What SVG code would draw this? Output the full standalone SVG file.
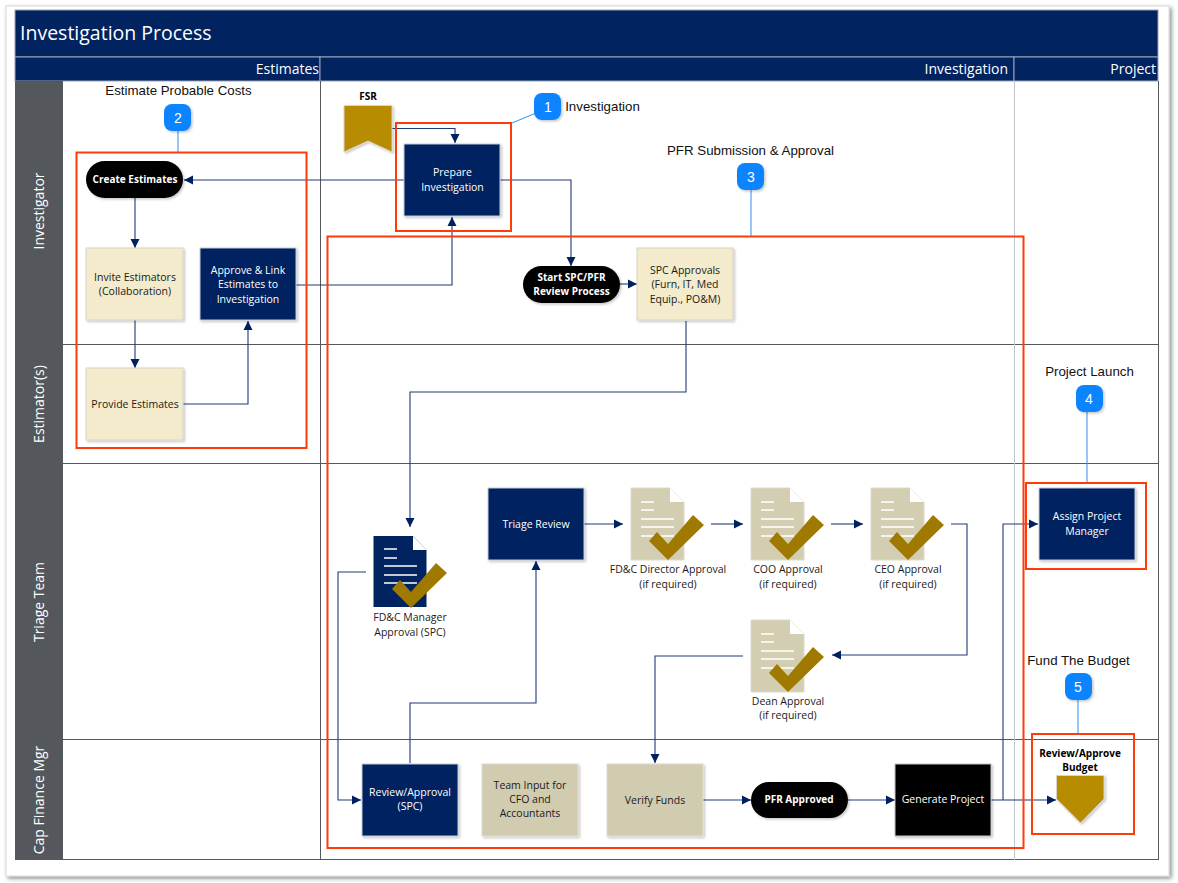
<svg xmlns="http://www.w3.org/2000/svg" width="1178" height="883" viewBox="0 0 1178 883">
<style>
text{font-family:"Open Sans","Noto Sans",sans-serif;text-anchor:middle}
.sm{font-size:10.5px;fill:#1a1a1a}
.wh{font-size:10.5px;fill:#fff}
.bd{font-size:10px;fill:#fff;font-weight:700}
.bk{font-size:10px;fill:#000;font-weight:700}
.ar{font-family:"Liberation Sans",sans-serif;font-size:13.3px;fill:#111}
.band{font-size:14px;fill:#fff;text-anchor:end}
.lane{font-size:14px;fill:#fff}
.num{font-size:14px;fill:#fff;font-family:"Liberation Sans",sans-serif}
.navy{fill:#012360;stroke:#c4cbd8;stroke-width:1;filter:url(#sh)}
.cream{fill:#f3ebcb;stroke:#d6d4c8;stroke-width:1;filter:url(#sh)}
.tan{fill:#d1ccb0;stroke:#dcdcd0;stroke-width:1;filter:url(#sh)}
.red{fill:none;stroke:#ff3b0a;stroke-width:2}
.conn{fill:none;stroke:#1f3a75;stroke-width:1.1;marker-end:url(#ah)}
.plain{fill:none;stroke:#1f3a75;stroke-width:1.1}
.call{fill:none;stroke:#2f8ff0;stroke-width:1}
.ln{stroke:#fff;stroke-width:1.5;fill:none}
</style>
<defs>
<filter id="sh" x="-15%" y="-15%" width="135%" height="135%"><feDropShadow dx="1.5" dy="1.5" stdDeviation="1.2" flood-color="#000" flood-opacity=".22"/></filter>
<filter id="pg" x="-2%" y="-2%" width="104%" height="104%"><feDropShadow dx="2" dy="2" stdDeviation="2" flood-color="#000" flood-opacity=".45"/></filter>
<marker id="ah" markerUnits="userSpaceOnUse" markerWidth="10" markerHeight="10" refX="9" refY="5" orient="auto"><path d="M0 0.500L9 5L0 9.500Z" fill="#002060"/></marker>
<path id="tick" d="M0 26L8 17L19 29L44 0L55 10L19 45Z" fill="#a07a00"/>
<g id="doc-tan">
<path d="M0 0H39L53 14V72H0Z" fill="#d3ceb2" stroke="#dedbca"/>
<path d="M39 0L53 14H39Z" fill="#fff"/>
<path d="M10 14H23M10 22H23M10 31H43M10 39H43M10 48H43" class="ln"/>
</g>
</defs>

<rect x="6" y="6" width="1163" height="870" fill="#fff" stroke="#d8d8d8" filter="url(#pg)"/>

<g id="frame">
<rect x="15" y="10" width="1143" height="47" fill="#012360" stroke="#9aa5b8"/>
<text x="20" y="40" style="font-size:19.500px;fill:#fff;text-anchor:start">Investigation Process</text>
<rect x="15" y="57" width="305" height="24" fill="#012360" stroke="#9aa5b8"/>
<rect x="320" y="57" width="694" height="24" fill="#012360" stroke="#9aa5b8"/>
<rect x="1014" y="57" width="144" height="24" fill="#012360" stroke="#9aa5b8"/>
<text x="319" y="74" class="band">Estimates</text>
<text x="1008" y="74" class="band">Investigation</text>
<text x="1156" y="74" class="band">Project</text>
<rect x="15" y="81" width="48" height="264" fill="#54575b"/>
<rect x="15" y="345" width="48" height="119" fill="#54575b"/>
<rect x="15" y="464" width="48" height="276" fill="#54575b"/>
<rect x="15" y="740" width="48" height="119" fill="#54575b"/>
<path d="M15 344.500H1158M15 463.500H1158M15 739.500H1158M15 859.500H1158M1158.500 81V860M320.500 81V860" stroke="#55585c" fill="none"/>
<path d="M1014.500 81V860" stroke="#c0c4cc" fill="none"/>
<text class="lane" transform="translate(44,211) rotate(-90)">Investigator</text>
<text class="lane" transform="translate(44,404) rotate(-90)">Estimator(s)</text>
<text class="lane" transform="translate(44,602) rotate(-90)">Triage Team</text>
<text class="lane" transform="translate(44,800) rotate(-90)">Cap Finance Mgr</text>
</g>

<g id="connectors">
<path class="plain" d="M391 128.500H455"/><path class="conn" d="M455 128V143"/>
<path class="conn" d="M404 180H184"/>
<path class="conn" d="M135 198V248"/>
<path class="conn" d="M135 320V368"/>
<path class="conn" d="M183 404H248V321"/>
<path class="conn" d="M296 285H452V217"/>
<path class="conn" d="M500 180H571V266"/>
<path class="conn" d="M620 284H637"/>
<path class="conn" d="M686 321V392H410V527"/>
<path class="conn" d="M366 572H338V800H361"/>
<path class="conn" d="M410 763V703H536V561"/>
<path class="conn" d="M584 524H623"/>
<path class="conn" d="M711 524H743"/>
<path class="conn" d="M831 524H863"/>
<path class="conn" d="M951 524H967V655H832"/>
<path class="conn" d="M743 656H655V763"/>
<path class="conn" d="M703 800H751"/>
<path class="conn" d="M848 800H895"/>
<path class="conn" d="M991 800H1056"/>
<path class="conn" d="M1003 800V524H1038"/>
</g>

<g id="callouts">
<path class="call" d="M178 130V152M536 113L512 123M751 190V237M1087 410V482M1078 697V733"/>
<path class="red" d="M76.500 152.500H306.500V448H76.500Z"/>
<path class="red" d="M396 123H511V231H396Z"/>
<path class="red" d="M327.500 236.500H1023.500V848H327.500Z"/>
<path class="red" d="M1026 483H1146V569H1026Z"/>
<path class="red" d="M1032 734H1134V834H1032Z"/>
<text x="178.500" y="95" class="ar">Estimate Probable Costs</text>
<text x="602.500" y="111" class="ar">Investigation</text>
<text x="750.500" y="155" class="ar">PFR Submission &amp; Approval</text>
<text x="1089.500" y="376" class="ar">Project Launch</text>
<text x="1078.500" y="665" class="ar">Fund The Budget</text>
</g>

<g id="b1"><rect x="534" y="93" width="27" height="27" rx="8" fill="#0a84ff" filter="url(#sh)"/><text x="548" y="112" class="num">1</text></g>
<g id="b2"><rect x="164" y="104" width="27" height="27" rx="8" fill="#0a84ff" filter="url(#sh)"/><text x="178" y="123" class="num">2</text></g>
<g id="b3"><rect x="737" y="163" width="27" height="27" rx="8" fill="#0a84ff" filter="url(#sh)"/><text x="751" y="182" class="num">3</text></g>
<g id="b4"><rect x="1076" y="385" width="27" height="27" rx="8" fill="#0a84ff" filter="url(#sh)"/><text x="1089" y="404" class="num">4</text></g>
<g id="b5"><rect x="1065" y="673" width="27" height="27" rx="8" fill="#0a84ff" filter="url(#sh)"/><text x="1078" y="692" class="num">5</text></g>

<g id="fsr"><path d="M344 105.500H392V152L368 141L344 152Z" fill="#b88c00" stroke="#d9d5c4" filter="url(#sh)"/><text x="368" y="100" class="bk">FSR</text></g>
<g id="prepare"><rect class="navy" x="404" y="144" width="96" height="72"/><text x="452.500" y="176" class="wh">Prepare</text><text x="452.500" y="191" class="wh">Investigation</text></g>
<g id="create"><rect x="86" y="161" width="97" height="37" rx="18.500" fill="#000" filter="url(#sh)"/><text x="135" y="183" class="bd">Create Estimates</text></g>
<g id="invite"><rect class="cream" x="86" y="248" width="97" height="72"/><text x="135" y="281" class="sm">Invite Estimators</text><text x="135" y="295" class="sm">(Collaboration)</text></g>
<g id="approve-link"><rect class="navy" x="200" y="248" width="96" height="72"/><text x="248" y="274" class="wh">Approve &amp; Link</text><text x="248" y="288" class="wh">Estimates to</text><text x="248" y="303" class="wh">Investigation</text></g>
<g id="provide"><rect class="cream" x="86" y="368" width="97" height="72"/><text x="135" y="408" class="sm">Provide Estimates</text></g>
<g id="start"><rect x="523" y="266" width="97" height="37" rx="18.500" fill="#000" filter="url(#sh)"/><text x="571.500" y="281" class="bd">Start SPC/PFR</text><text x="571.500" y="295" class="bd">Review Process</text></g>
<g id="spc"><rect class="cream" x="637" y="248" width="96" height="72"/><text x="685" y="274" class="sm">SPC Approvals</text><text x="685" y="288" class="sm">(Furn, IT, Med</text><text x="685" y="303" class="sm">Equip., PO&amp;M)</text></g>

<g id="fdc-manager"><path d="M373.500 536H413L426.500 550V607H373.500Z" fill="#012360"/><path d="M413 536L426.500 550H413Z" fill="#fff"/><path d="M384 549H397M384 558H397M384 566H417M384 575H417M384 583H417" class="ln"/><use href="#tick" x="392" y="563"/><text x="410" y="621" class="sm">FD&amp;C Manager</text><text x="410" y="636" class="sm">Approval (SPC)</text></g>
<g id="triage"><rect class="navy" x="488" y="488" width="96" height="72"/><text x="536" y="528" class="wh">Triage Review</text></g>
<g id="fdc-director"><use href="#doc-tan" x="631" y="488"/><use href="#tick" x="649" y="515"/><text x="668" y="573" class="sm">FD&amp;C Director Approval</text><text x="668" y="588" class="sm">(if required)</text></g>
<g id="coo"><use href="#doc-tan" x="751" y="488"/><use href="#tick" x="769" y="515"/><text x="788" y="573" class="sm">COO Approval</text><text x="788" y="588" class="sm">(if required)</text></g>
<g id="ceo"><use href="#doc-tan" x="871" y="488"/><use href="#tick" x="889" y="515"/><text x="908" y="573" class="sm">CEO Approval</text><text x="908" y="588" class="sm">(if required)</text></g>
<g id="dean"><use href="#doc-tan" x="751" y="620"/><use href="#tick" x="769" y="647"/><text x="788" y="705" class="sm">Dean Approval</text><text x="788" y="719" class="sm">(if required)</text></g>
<g id="assign"><rect class="navy" x="1039" y="488" width="96" height="72"/><text x="1087" y="520" class="wh">Assign Project</text><text x="1087" y="535" class="wh">Manager</text></g>
<g id="review-spc"><rect class="navy" x="362" y="764" width="96" height="72"/><text x="410" y="796" class="wh">Review/Approval</text><text x="410" y="810" class="wh">(SPC)</text></g>
<g id="team-input"><rect class="tan" x="482" y="764" width="96" height="72"/><text x="530" y="789" class="sm">Team Input for</text><text x="530" y="803" class="sm">CFO and</text><text x="530" y="817" class="sm">Accountants</text></g>
<g id="verify"><rect class="tan" x="607" y="764" width="96" height="72"/><text x="655" y="804" class="sm">Verify Funds</text></g>
<g id="pfr"><rect x="751" y="782" width="97" height="36" rx="18" fill="#000" filter="url(#sh)"/><text x="799" y="803" class="bd">PFR Approved</text></g>
<g id="generate"><rect x="895" y="764" width="96" height="72" fill="#000" stroke="#c4c4c4" filter="url(#sh)"/><text x="943" y="803" class="wh">Generate Project</text></g>
<g id="budget"><path d="M1056.500 775.500H1104V799L1080.500 823L1056.500 799Z" fill="#b88c00" stroke="#d9d5c4" filter="url(#sh)"/><text x="1080" y="757" class="bk">Review/Approve</text><text x="1080" y="771" class="bk">Budget</text></g>
</svg>
